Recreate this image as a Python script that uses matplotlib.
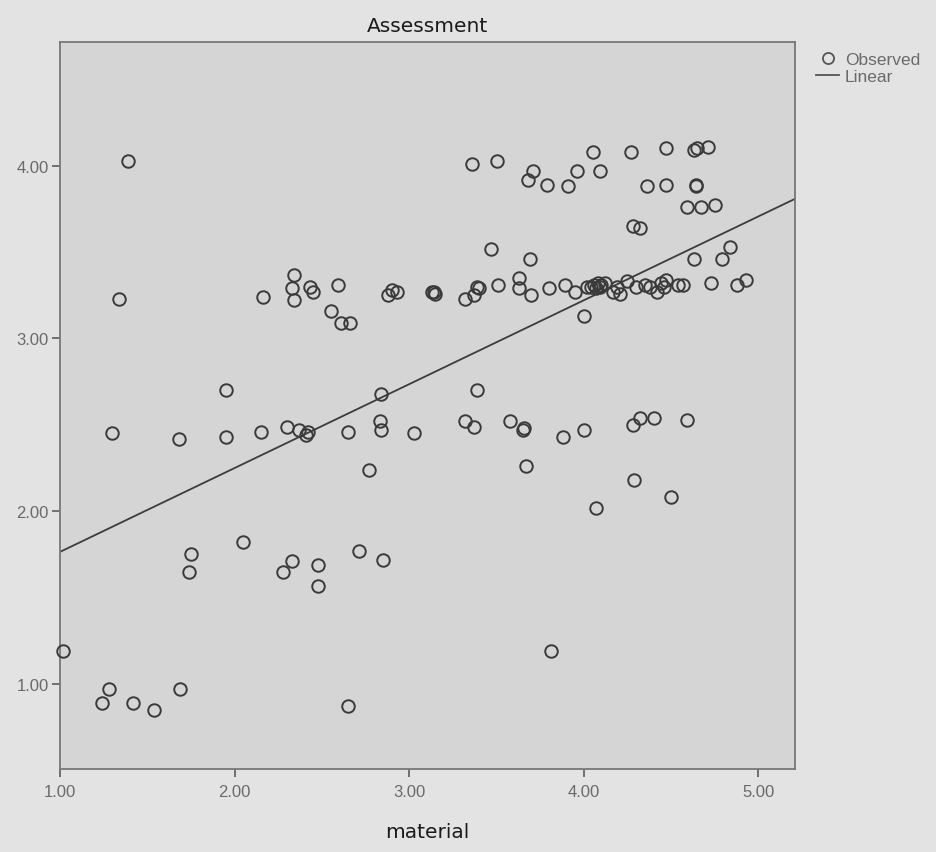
import numpy as np
import matplotlib
matplotlib.use("Agg")
import matplotlib.pyplot as plt
from matplotlib.lines import Line2D

material = [
    1.02, 1.24, 1.28, 1.42, 1.54, 1.69, 2.65, 3.81,
    1.75, 1.74, 2.05, 2.28, 2.33, 2.48, 2.48, 2.71, 2.85,
    2.77, 3.67, 4.07, 4.29, 4.50,
    1.30, 1.68, 1.95, 2.15, 2.30, 2.37, 2.41, 2.42, 2.65, 2.83, 2.84, 3.03,
    1.95, 2.84, 3.39,
    3.32, 3.37, 3.58, 3.65, 3.66, 3.88, 4.00, 4.28, 4.32, 4.40, 4.59,
    1.34, 1.39, 2.16, 2.34, 2.33, 2.34, 2.43, 2.45, 2.59, 2.55, 2.61, 2.66,
    2.88, 2.90, 2.93, 3.13, 3.14, 3.15, 3.32,
    3.36, 3.50, 3.68, 3.71, 3.79, 3.47, 3.69,
    3.39, 3.40, 3.37, 3.51, 3.63, 3.63, 3.70, 3.80,
    4.05, 4.27, 4.47, 4.63, 4.65, 4.71, 3.96, 4.09, 3.91, 4.36, 4.47, 4.64, 4.64,
    4.59, 4.67, 4.75, 4.28, 4.32, 4.63, 4.79, 4.84, 4.73, 4.88, 4.93, 4.00,
    3.89, 3.95, 4.02, 4.04, 4.06, 4.07, 4.08, 4.09, 4.10, 4.12,
    4.17, 4.21, 4.19, 4.25, 4.30, 4.35, 4.38, 4.42, 4.44, 4.47, 4.46, 4.54, 4.57,
]
assessment = [
    1.19, 0.89, 0.97, 0.89, 0.85, 0.97, 0.87, 1.19,
    1.75, 1.65, 1.82, 1.65, 1.71, 1.69, 1.57, 1.77, 1.72,
    2.24, 2.26, 2.02, 2.18, 2.08,
    2.45, 2.42, 2.43, 2.46, 2.49, 2.47, 2.44, 2.46, 2.46, 2.52, 2.47, 2.45,
    2.70, 2.68, 2.70,
    2.52, 2.49, 2.52, 2.47, 2.48, 2.43, 2.47, 2.50, 2.54, 2.54, 2.53,
    3.23, 4.03, 3.24, 3.37, 3.29, 3.22, 3.30, 3.27, 3.31, 3.16, 3.09, 3.09,
    3.25, 3.28, 3.27, 3.27, 3.27, 3.26, 3.23,
    4.01, 4.03, 3.92, 3.97, 3.89, 3.52, 3.46,
    3.30, 3.29, 3.25, 3.31, 3.35, 3.29, 3.25, 3.29,
    4.08, 4.08, 4.10, 4.09, 4.10, 4.11, 3.97, 3.97, 3.88, 3.88, 3.89, 3.89, 3.88,
    3.76, 3.76, 3.77, 3.65, 3.64, 3.46, 3.46, 3.53, 3.32, 3.31, 3.34, 3.13,
    3.31, 3.27, 3.30, 3.30, 3.31, 3.29, 3.32, 3.30, 3.31, 3.32,
    3.27, 3.26, 3.30, 3.33, 3.30, 3.31, 3.30, 3.27, 3.32, 3.34, 3.30, 3.31, 3.31,
]

# linear fit line
fit_intercept = 1.279
fit_slope = 0.4855

x_ticks = [1, 2, 3, 4, 5]
y_ticks = [1, 2, 3, 4]

fig = plt.figure(figsize=(9.37, 8.53), dpi=100, facecolor="#e3e3e3")
ax = fig.add_axes([0.064, 0.0973, 0.784, 0.8523], facecolor="#d5d5d5")

ax.set_xlim(1.007, 5.207)
ax.set_ylim(0.508, 4.716)

ax.plot(material, assessment, linestyle="none", marker="o", markersize=9,
        markerfacecolor="none", markeredgecolor="#3a3a3a", markeredgewidth=1.4,
        clip_on=False, zorder=3)

xl = np.array(ax.get_xlim())
ax.plot(xl, fit_intercept + fit_slope * xl, color="#3c3c3c", linewidth=1.3, zorder=2)

for s in ax.spines.values():
    s.set_color("#777777")
    s.set_linewidth(1.3)

ax.set_xticks(x_ticks)
ax.set_xticklabels([f"{v:.2f}" for v in x_ticks])
ax.set_yticks(y_ticks)
ax.set_yticklabels([f"{v:.2f}" for v in y_ticks])
ax.tick_params(axis="both", direction="out", length=6, width=1.3, color="#666666",
               labelcolor="#6a6a6a", labelsize=12, pad=2)
ax.tick_params(axis="x", pad=5)
for lab in ax.get_xticklabels() + ax.get_yticklabels():
    lab.set_family("Liberation Sans")

ax.set_title("Assessment", fontsize=14.5, color="#1a1a1a", pad=8,
             family="DejaVu Sans", fontweight="medium")
ax.set_xlabel("material", fontsize=14.5, color="#1a1a1a", labelpad=16,
              family="DejaVu Sans", fontweight="medium")

handles = [
    Line2D([], [], linestyle="none", marker="o", markersize=8, markerfacecolor="none",
           markeredgecolor="#555555", markeredgewidth=1.3, label="Observed"),
    Line2D([], [], color="#555555", linewidth=1.3, label="Linear"),
]
leg = fig.legend(handles=handles, loc="upper left", bbox_to_anchor=(0.862, 0.948),
                 frameon=False, fontsize=12.5, handlelength=1.3, handletextpad=0.35,
                 labelspacing=0.1, borderpad=0)
for t in leg.get_texts():
    t.set_color("#6a6a6a")
    t.set_family("Liberation Sans")

fig.savefig("out.png", dpi=100, facecolor=fig.get_facecolor())
